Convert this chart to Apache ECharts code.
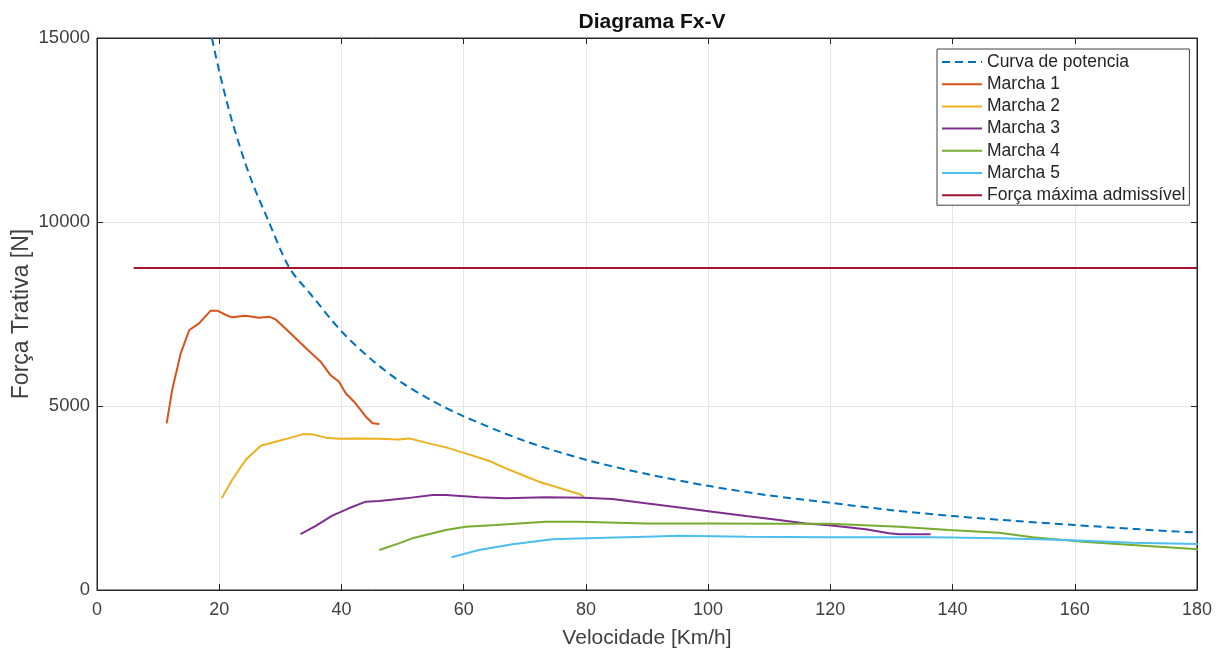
<!DOCTYPE html>
<html>
<head>
<meta charset="utf-8">
<script src="https://cdn.jsdelivr.net/npm/echarts@6/dist/echarts.min.js"></script>
<style>html,body{margin:0;padding:0;background:#fff;}#c{width:1223px;height:653px;}</style>
</head>
<body>
<div id="c"></div>
<script>
// ---- data ----
const xTicks = [0, 20, 40, 60, 80, 100, 120, 140, 160, 180];
const yTicks = [0, 5000, 10000, 15000];
const seriesNames = ['Curva de potencia', 'Marcha 1', 'Marcha 2', 'Marcha 3', 'Marcha 4', 'Marcha 5', 'Força máxima admissível'];

const curvaPotencia = [[18.8,15000],[20,14100],[22,12800],[25,11250],[28,10050],[31.5,8750],[35,8030],[40,7030],[45,6250],[50,5620],[55,5130],[60,4720],[70,4050],[80,3540],[90,3150],[100,2830],[110,2570],[120,2370],[130,2170],[140,2010],[150,1880],[160,1765],[170,1655],[180,1560]];

const marcha1 = [[11.4,4530],[12.3,5435],[13.7,6430],[15.1,7065],[16.7,7247],[18.6,7590],[19.7,7590],[21.1,7473],[22.1,7409],[24.3,7455],[26.5,7400],[28.2,7428],[29.2,7355],[31.4,7020],[34.2,6567],[36.6,6205],[38.2,5840],[39.6,5660],[40.7,5345],[42.3,5073],[44.0,4710],[45.1,4530],[46.2,4510]];

const marcha2 = [[20.4,2490],[22.1,2990],[24.3,3530],[26.8,3920],[29.2,4030],[31.3,4120],[33.6,4230],[35.2,4230],[37.4,4140],[39.6,4110],[42.3,4120],[46.2,4110],[49.4,4090],[51.1,4120],[54.3,3985],[57.1,3875],[60.3,3713],[64.2,3505],[66.9,3305],[69.6,3125],[72.3,2943],[74.5,2835],[76.7,2717],[78.9,2608],[79.7,2535]];

const marcha3 = [[33.3,1520],[35.8,1740],[38.5,2020],[41.2,2220],[44.0,2400],[46.2,2420],[50.5,2490],[54.9,2580],[57.1,2580],[62.5,2518],[66.9,2490],[73.4,2518],[79.7,2510],[84.3,2473],[89.8,2355],[95.3,2245],[100.7,2128],[106.2,2010],[111.6,1900],[116.0,1810],[119.8,1760],[125.8,1649],[129.6,1540],[131.3,1513],[136.4,1513]];

const marcha4 = [[46.2,1087],[49.4,1268],[51.6,1404],[57.1,1630],[60.3,1721],[65.3,1766],[73.4,1857],[78.9,1857],[89.8,1810],[100.7,1810],[111.6,1800],[119.8,1800],[131.3,1721],[139.4,1630],[147.6,1558],[153.1,1431],[161.3,1313],[169.4,1223],[180.4,1105]];

const marcha5 = [[58.0,888],[62.5,1087],[68.0,1241],[74.5,1377],[80.0,1404],[89.8,1450],[95.3,1476],[106.2,1450],[119.8,1431],[136.7,1431],[147.6,1404],[158.5,1359],[169.4,1286],[180.4,1250]];

const forcaMaxima = [[6,8750],[180,8750]];

const colors = ['#0072BD', '#D95319', '#EDB120', '#7E2F8E', '#77AC30', '#4DBEEE', '#A2142F'];
const dataSets = [curvaPotencia, marcha1, marcha2, marcha3, marcha4, marcha5, forcaMaxima];

const chart = echarts.init(document.getElementById('c'), null, {renderer: 'canvas'});
const axisTxt = '#404040';
const font = 'Liberation Sans, Arial, sans-serif';

const series = dataSets.map((d, i) => ({
  name: seriesNames[i],
  type: 'line',
  xAxisIndex: 0,
  yAxisIndex: 0,
  data: d,
  symbol: 'none',
  smooth: i === 0 ? 0.3 : false,
  clip: true,
  color: colors[i],
  lineStyle: {width: 2, color: colors[i], type: i === 0 ? [8, 5] : 'solid'},
  z: i === 0 ? 3 : 2
}));

const tickStyle = {show: true, inside: true, length: 6, lineStyle: {color: '#262626'}};

chart.setOption({
  animation: false,
  backgroundColor: '#fff',
  title: {
    text: 'Diagrama Fx-V', left: 647, textAlign: 'center', top: 7,
    textStyle: {fontSize: 21, fontWeight: 'bold', color: '#111', fontFamily: font}
  },
  legend: {
    data: seriesNames,
    orient: 'vertical',
    left: 937, top: 49,
    itemWidth: 40, itemHeight: 14, itemGap: 4.2,
    padding: [4, 4, 1, 4],
    backgroundColor: '#fff',
    borderColor: '#404040', borderWidth: 1,
    itemStyle: {opacity: 0},
    textStyle: {fontSize: 17.5, lineHeight: 18, color: '#262626', fontFamily: font}
  },
  grid: {left: 97, right: 26, top: 38, bottom: 63, outerBoundsMode: 'none', containLabel: false,
    show: true, borderColor: '#262626', borderWidth: 1, backgroundColor: 'transparent'},
  xAxis: [{
    type: 'value', min: 0, max: 180, interval: 20, position: 'bottom',
    name: 'Velocidade [Km/h]', nameLocation: 'middle', nameGap: 38, nameMoveOverlap: false,
    nameTextStyle: {fontSize: 21, color: axisTxt, fontFamily: font},
    axisLine: {show: true, onZero: false, lineStyle: {color: '#262626'}},
    axisTick: tickStyle,
    axisLabel: {fontSize: 18, color: axisTxt, fontFamily: font, margin: 11,
      formatter: v => xTicks.includes(v) ? String(v) : ''},
    splitLine: {show: true, lineStyle: {color: '#e6e6e6'}}
  }, {
    type: 'value', min: 0, max: 180, interval: 20, position: 'top',
    axisLine: {show: true, onZero: false, lineStyle: {color: '#262626'}},
    axisTick: tickStyle,
    axisLabel: {show: false}, splitLine: {show: false}
  }],
  yAxis: [{
    type: 'value', min: 0, max: 15000, interval: 5000, position: 'left',
    name: 'Força Trativa [N]', nameLocation: 'middle', nameGap: 64, nameMoveOverlap: false,
    nameTextStyle: {fontSize: 23, color: axisTxt, fontFamily: font},
    axisLine: {show: true, onZero: false, lineStyle: {color: '#262626'}},
    axisTick: tickStyle,
    axisLabel: {fontSize: 18.5, color: axisTxt, fontFamily: font, margin: 7,
      formatter: v => yTicks.includes(v) ? String(v) : ''},
    splitLine: {show: true, lineStyle: {color: '#e6e6e6'}}
  }, {
    type: 'value', min: 0, max: 15000, interval: 5000, position: 'right',
    axisLine: {show: true, onZero: false, lineStyle: {color: '#262626'}},
    axisTick: tickStyle,
    axisLabel: {show: false}, splitLine: {show: false}
  }],
  series: series
});
</script>
</body>
</html>
